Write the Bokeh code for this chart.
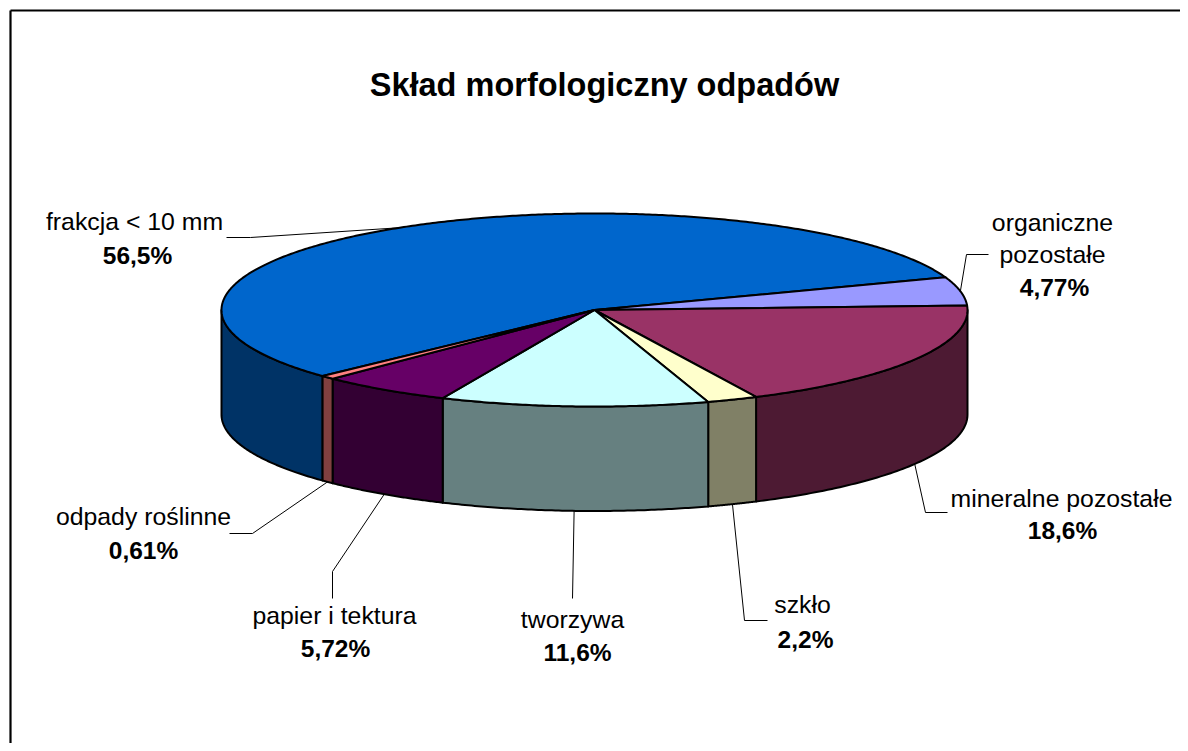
import numpy as np
from bokeh.core.properties import value
from bokeh.embed import file_html
from bokeh.models import Range1d
from bokeh.plotting import figure
from bokeh.resources import INLINE

title = "Skład morfologiczny odpadów"
categories = ["frakcja < 10 mm", "organiczne pozostałe", "mineralne pozostałe", "szkło",
              "tworzywa", "papier i tektura", "odpady roślinne"]
label_lines = [["frakcja < 10 mm"], ["organiczne", "pozostałe"], ["mineralne pozostałe"], ["szkło"],
               ["tworzywa"], ["papier i tektura"], ["odpady roślinne"]]
shares = [56.5, 4.77, 18.6, 2.2, 11.6, 5.72, 0.61]
share_labels = ["56,5%", "4,77%", "18,6%", "2,2%", "11,6%", "5,72%", "0,61%"]
top_colors = ["#0066CC", "#9999FF", "#993366", "#FFFFCC", "#CCFFFF", "#660066", "#FF8080"]
side_colors = ["#003366", "#4D4D80", "#4D1A33", "#808066", "#668080", "#330033", "#804040"]

W, H = 1180, 743
CX, CY, RX, RY, DEPTH = 594.0, 309.5, 373.0, 96.5, 104.5
START = 223.2
FONT = "Liberation Sans"

p = figure(width=W, height=H, output_backend="svg", toolbar_location=None,
           x_range=Range1d(0, W), y_range=Range1d(H, 0), min_border=0, title=None)
p.axis.visible = False
p.grid.visible = False
p.outline_line_color = None
p.background_fill_color = "white"

def ex(t):
    return CX + RX * np.cos(np.radians(t))

def ey(t, drop=0.0):
    return CY - RY * np.sin(np.radians(t)) + drop

total = sum(shares)
ends = START - np.cumsum(shares) / total * 360.0
starts = np.concatenate([[START], ends[:-1]])

# frame, open on the right and at the bottom like the reference
p.segment([10, 10], [10, 10], [10, W], [H, 10], line_color="black", line_width=2.2)

# walls: only the part of each slice that faces the viewer
for a, b, col in zip(starts, ends, side_colors):
    for win_lo, win_hi in ((180.0, 360.0), (-180.0, 0.0)):
        lo, hi = max(b, win_lo), min(a, win_hi)
        if hi <= lo:
            continue
        t = np.linspace(hi, lo, 80)
        xs = np.concatenate([ex(t), ex(t[::-1])])
        ys = np.concatenate([ey(t), ey(t[::-1], DEPTH)])
        p.patch(xs, ys, fill_color=col, line_color="black", line_width=2, line_join="round")

# top faces
for a, b, col in zip(starts, ends, top_colors):
    t = np.linspace(a, b, max(int(abs(a - b)) * 2, 8))
    xs = np.concatenate([[CX], ex(t)])
    ys = np.concatenate([[CY], ey(t)])
    p.patch(xs, ys, fill_color=col, line_color="black", line_width=2, line_join="round")

# leader lines start at the middle of their slice, on the rim or the lower wall edge
mids = (starts + ends) / 2
wall = [0, 0, 1, 1, 1, 1, 1]
elbows = [[(250, 237), (226, 237)],
          [(966, 254), (988, 254)],
          [(925, 512), (947, 512)],
          [(744, 620), (767, 620)],
          [(572, 598)],
          [(332, 571), (332, 598)],
          [(252, 533), (229, 533)]]
for m, w, el in zip(mids, wall, elbows):
    xs = [float(ex(m))] + [e[0] for e in el]
    ys = [float(ey(m, DEPTH * w))] + [e[1] for e in el]
    p.line(xs, ys, line_color="black", line_width=1)

# labels
name_pos = [[(134, 221)], [(1052, 222), (1052, 254)], [(1061, 498)], [(802, 604)],
            [(572, 619)], [(334, 615)], [(143, 516)]]
val_pos = [(137, 255), (1054, 287), (1062, 530), (805, 639), (577, 652), (335, 648), (143, 550)]
for lines, pos in zip(label_lines, name_pos):
    p.text([q[0] for q in pos], [q[1] for q in pos], text=lines, text_font=value(FONT),
           text_font_size="24.8px", text_align="center", text_baseline="middle", text_color="black")
p.text([q[0] for q in val_pos], [q[1] for q in val_pos], text=share_labels, text_font=value(FONT),
       text_font_size="24.5px", text_font_style="bold", text_align="center", text_baseline="middle",
       text_color="black")
p.text([604], [84], text=[title], text_font=value(FONT), text_font_size="32.5px", text_font_style="bold",
       text_align="center", text_baseline="middle", text_color="black")

open("out.html", "w").write(file_html(p, INLINE))
